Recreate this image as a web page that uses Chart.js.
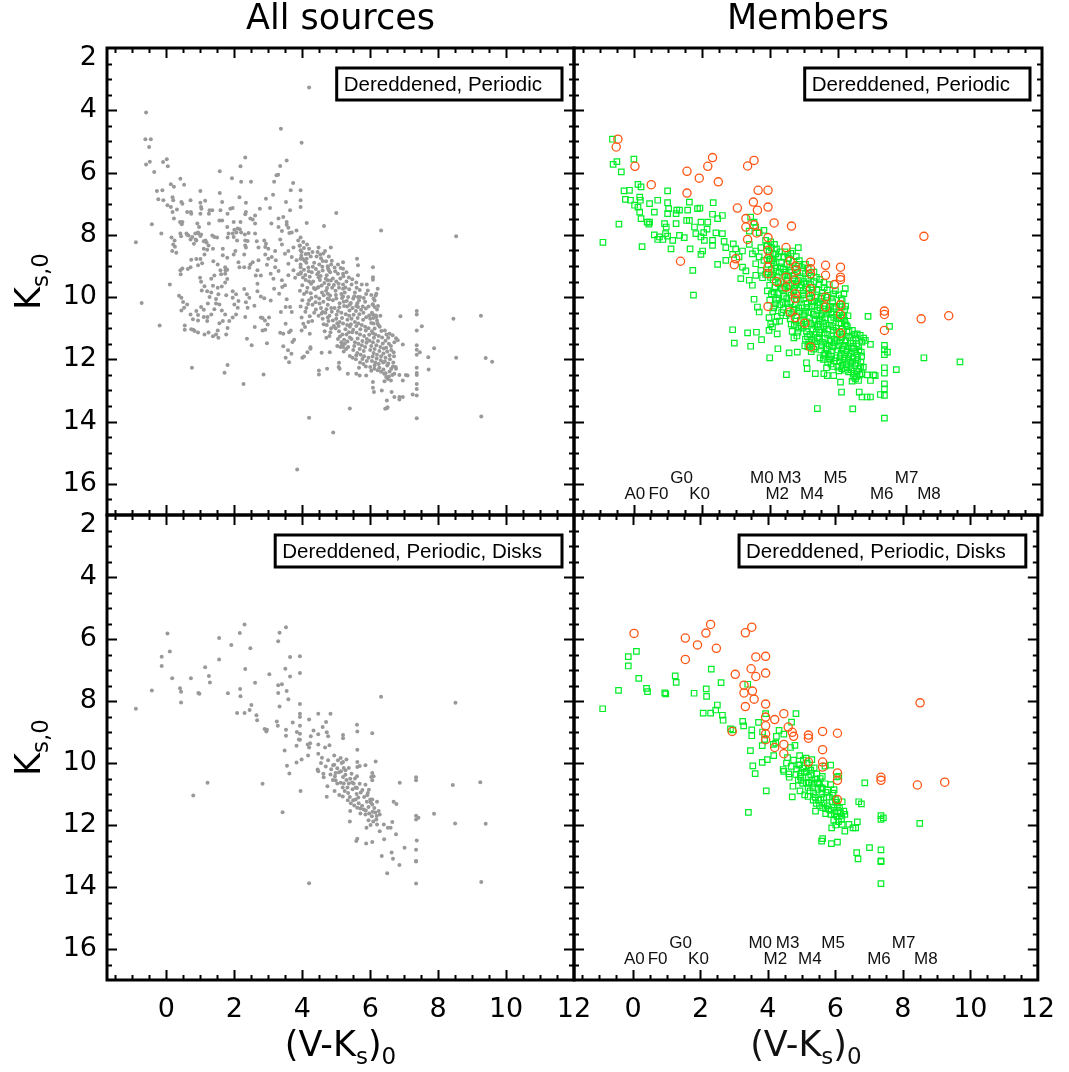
<!DOCTYPE html>
<html>
<head>
<meta charset="utf-8">
<script src="https://cdn.jsdelivr.net/npm/chart.js@4.4.1/dist/chart.umd.min.js"></script>
<style>
  html, body { margin: 0; padding: 0; background: #fff; }
  #wrap { position: relative; width: 1069px; height: 1072px; }
  #wrap canvas { position: absolute; left: 0; top: 0; }
</style>
</head>
<body>
<div id="wrap">
  <canvas id="allPeriodic" width="1069" height="1072"></canvas>
  <canvas id="memPeriodic" width="1069" height="1072"></canvas>
  <canvas id="allDisks" width="1069" height="1072"></canvas>
  <canvas id="memDisks" width="1069" height="1072"></canvas>
</div>
<script>
// axis ranges and tick labels
var X_MIN = -1.75, X_MAX = 12, Y_MIN = 2, Y_MAX = 17;
var xTicks = [0, 2, 4, 6, 8, 10, 12];
var yTicks = [2, 4, 6, 8, 10, 12, 14, 16];

// spectral types and their (V-Ks)0 colours, two rows of labels
var sptUpper = ["G0", "M0", "M3", "M5", "M7"];
var sptUpperVK = [1.41, 3.77, 4.58, 5.93, 8.02];
var sptLower = ["A0", "F0", "K0", "M2", "M4", "M6", "M8"];
var sptLowerVK = [0.04, 0.73, 1.94, 4.22, 5.24, 7.29, 8.68];

// periodic members: [ (V-Ks)0, Ks,0 ]
var memberCircles = [
  [-0.46,4.93],[-0.51,5.18],[0.04,5.8],[0.52,6.39],[1.57,5.96],[1.57,6.66],[1.93,6.18],[2.18,5.8],[2.32,5.52],[2.49,6.3],
  [3.35,5.79],[3.54,5.61],[3.66,6.57],[3.95,6.57],[3.95,7.11],[3.52,6.95],[3.64,7.21],[3.05,7.14],[3.3,7.48],[3.3,7.75],
  [3.54,7.68],[3.62,7.94],[3.35,8.15],[3.95,8.09],[4.13,7.62],[4.64,7.72],[8.53,8.05],[1.38,8.85],[2.96,8.96],[3.0,8.77],
  [3.95,8.5],[3.95,8.77],[3.95,9.04],[3.95,9.25],[4.2,9.5],[4.48,8.41],[4.6,8.84],[4.75,9.01],[4.78,9.14],[4.48,9.36],
  [4.48,9.68],[5.2,8.88],[5.2,9.09],[5.2,9.25],[5.64,8.98],[6.08,9.04],[6.08,9.36],[6.08,9.44],[5.64,9.3],[5.9,9.6],
  [5.64,10.0],[5.64,10.32],[5.2,9.73],[5.2,9.98],[4.75,10.05],[4.6,10.48],[4.75,10.66],[5.03,10.84],[5.2,11.6],[3.95,10.3],
  [6.08,10.25],[6.08,10.56],[6.08,11.16],[7.37,10.45],[7.37,10.56],[7.37,11.07],[8.45,10.7],[9.26,10.6],[4.75,9.46],[4.75,9.89]
];
var memberSquares = [
  [-0.62,4.93],[-0.6,5.74],[-0.49,5.65],[-0.36,5.98],[0.01,5.57],[0.13,6.38],[0.22,6.46],[-0.28,6.59],[-0.24,6.86],[-0.12,6.57],
  [-0.09,6.89],[0.03,7.05],[0.18,6.79],[0.2,6.89],[0.13,7.11],[0.18,7.27],[0.22,7.48],[0.4,7.59],[0.45,7.66],[0.47,7.0],
  [0.61,7.27],[0.71,6.89],[1.0,6.59],[1.0,6.97],[1.03,7.16],[1.0,7.32],[1.27,7.21],[1.35,7.21],[1.59,7.21],[1.64,6.95],
  [1.88,7.16],[1.95,7.14],[2.34,6.97],[2.32,7.34],[2.61,7.38],[2.47,7.48],[2.18,7.59],[1.98,7.59],[1.64,7.54],[1.25,7.64],
  [0.91,7.64],[0.96,7.75],[0.94,7.96],[1.0,8.04],[0.86,8.15],[0.71,8.15],[0.61,8.0],[0.76,8.07],[1.15,8.18],[1.1,8.45],
  [1.35,8.02],[1.49,8.09],[1.66,8.45],[1.79,7.75],[1.83,7.96],[1.98,8.07],[2.06,7.93],[2.08,8.18],[2.16,7.82],[2.42,7.94],
  [2.61,7.96],[2.32,8.18],[2.32,8.34],[2.03,8.52],[1.98,8.63],[2.66,8.21],[2.71,8.41],[2.93,8.29],[3.0,8.45],[2.47,8.95],
  [2.71,8.82],[2.91,8.63],[3.1,8.71],[3.2,8.52],[3.4,8.31],[3.49,8.61],[3.2,9.04],[3.3,9.16],[3.15,9.41],[3.4,9.46],
  [3.49,9.62],[-0.43,7.66],[0.25,8.38],[-0.9,8.24],[1.74,9.14],[1.76,9.94],[0.47,7.59],[1.25,7.32],[1.56,7.54],
  [3.44,7.43],[3.54,7.59],[3.59,7.77],[3.4,7.88],[3.69,7.93],[3.83,7.86],[3.88,8.18],[3.93,8.34],[3.74,8.41],[3.59,8.52],
  [3.69,8.71],[3.83,8.82],[3.59,8.93],[3.74,9.14],[3.88,9.27],[3.59,9.3],[3.79,9.38],[3.54,10.07],[3.64,10.32],[3.69,10.48],
  [3.98,10.66],[4.03,10.86],[4.18,10.8],[4.08,10.96],[4.22,11.18],[3.98,11.07],[2.91,11.05],[3.35,11.15],[3.61,11.13],[3.76,11.37],
  [2.96,11.48],[3.44,11.58],[4.0,11.95],[4.24,11.66],[4.57,11.79],[4.81,11.77],[4.49,12.49],[5.08,12.11],[5.34,12.46],[5.4,13.58],
  [6.44,13.59],[7.37,13.89],[4.84,8.41],[4.18,8.61],[4.13,8.77],[6.22,9.73],[6.18,9.89],[6.13,10.11],[6.13,10.32],[6.18,10.64],
  [6.22,10.86],[6.57,11.18],[6.66,11.23],[6.76,11.32],[6.81,11.39],[6.71,11.45],[6.96,11.52],[6.89,10.62],[7.52,10.94],[7.37,11.55],
  [7.37,11.69],[7.46,11.77],[7.37,11.85],[7.72,12.33],[8.53,11.95],[9.59,12.08],[7.05,12.5],[6.96,12.68],[7.1,12.52],[6.71,12.46],
  [6.86,12.5],[7.37,12.44],[7.37,12.27],[7.37,12.79],[7.37,12.95],[7.25,13.13],[7.37,13.16],[6.71,13.21],[6.86,13.21],[6.96,13.21],
  [6.63,13.05],[6.61,12.68],[6.52,12.63],[6.11,13.05],[6.08,12.73],[5.88,12.52],[5.69,12.52],[5.59,12.46],[5.1,12.3],
  // main sequence core
  [3.92,8.35],[3.98,8.55],[4.05,8.42],[4.1,8.62],[4.02,8.78],[3.95,8.95],[4.12,8.9],[4.2,8.45],[4.25,8.7],[4.3,8.55],
  [4.18,9.05],[4.05,9.12],[3.96,9.2],[4.28,9.2],[4.35,8.9],[4.4,9.1],[4.22,9.35],[4.1,9.45],[4.32,9.5],[4.0,9.62],
  [4.15,9.7],[4.38,9.75],[4.25,9.88],[4.05,9.9],[4.4,9.98],[4.2,10.1],[4.3,10.25],[4.12,10.35],[4.35,10.5],[4.22,10.62],
  [4.4,10.4],[3.93,9.8],[4.42,8.7],[4.0,10.1],
  [4.45,8.55],[4.55,8.75],[4.5,8.95],[4.62,8.6],[4.7,8.85],[4.78,8.7],[4.85,8.95],[4.48,9.2],[4.6,9.15],[4.72,9.3],
  [4.82,9.2],[4.9,9.4],[4.52,9.45],[4.65,9.55],[4.78,9.6],[4.88,9.7],[4.45,9.7],[4.58,9.85],[4.7,9.8],[4.82,9.95],
  [4.9,10.1],[4.5,10.05],[4.62,10.15],[4.75,10.25],[4.85,10.35],[4.55,10.35],[4.68,10.5],[4.8,10.6],[4.9,10.75],[4.6,10.7],
  [4.72,10.9],[4.85,11.0],[4.48,10.6],[4.66,11.1],[4.8,11.25],
  [4.95,9.05],[5.05,9.25],[5.0,9.5],[5.12,9.4],[5.2,9.6],[5.3,9.5],[5.38,9.75],[4.98,9.8],[5.08,9.7],[5.15,9.9],
  [5.25,9.85],[5.35,10.0],[5.0,10.05],[5.1,10.2],[5.22,10.15],[5.32,10.3],[5.4,10.25],[4.95,10.35],[5.05,10.45],[5.15,10.5],
  [5.28,10.55],[5.38,10.6],[5.0,10.7],[5.1,10.8],[5.2,10.85],[5.32,10.9],[5.4,10.95],[4.98,11.0],[5.08,11.1],[5.18,11.2],
  [5.3,11.2],[5.4,11.3],[5.05,11.35],[5.15,11.45],[5.25,11.5],[5.35,11.6],[5.22,11.75],[5.12,11.6],[5.3,9.2],[5.05,8.95],
  [5.45,9.6],[5.55,9.85],[5.5,10.05],[5.62,10.2],[5.7,10.0],[5.78,10.3],[5.85,10.15],[5.48,10.35],[5.58,10.45],[5.68,10.55],
  [5.8,10.5],[5.88,10.65],[5.45,10.7],[5.55,10.8],[5.65,10.85],[5.75,10.9],[5.85,10.95],[5.5,11.05],[5.6,11.15],[5.7,11.2],
  [5.82,11.25],[5.9,11.35],[5.45,11.35],[5.55,11.45],[5.65,11.5],[5.75,11.55],[5.85,11.6],[5.5,11.7],[5.62,11.8],[5.72,11.85],
  [5.82,11.9],[5.58,12.0],[5.7,12.1],[5.8,12.15],[5.9,12.05],[5.48,11.95],[5.88,9.9],[5.6,9.7],[5.75,9.6],
  [5.95,10.3],[6.05,10.5],[6.0,10.7],[6.1,10.85],[6.2,10.75],[6.28,10.95],[5.95,11.0],[6.05,11.1],[6.15,11.2],[6.25,11.25],
  [6.35,11.3],[5.98,11.4],[6.08,11.45],[6.18,11.55],[6.3,11.6],[6.4,11.65],[6.0,11.7],[6.1,11.8],[6.2,11.85],[6.32,11.9],
  [5.95,11.95],[6.05,12.05],[6.15,12.1],[6.25,12.15],[6.38,12.1],[6.0,12.25],[6.12,12.3],[6.22,12.35],[6.32,12.4],[6.1,10.05],
  [6.2,10.4],[6.3,10.6],
  [6.45,11.4],[6.55,11.5],[6.5,11.75],[6.62,11.7],[6.7,11.9],[6.45,11.95],[6.58,12.0],[6.68,12.1],[6.5,12.2],[6.62,12.3],
  [6.75,12.25],[6.45,12.45],[6.55,12.55],[6.65,12.5],[6.42,12.7],[6.48,11.2],
  [4.03,8.23],[4.14,8.31],[3.97,8.67],[4.07,8.83],[4.19,9.17],[4.31,9.03],[4.09,9.29],[4.26,9.57],[4.13,9.84],[4.34,9.71],
  [4.02,9.37],[4.44,9.27],[4.27,10.03],[4.17,10.22],[4.39,10.17],[4.09,10.47],[4.29,10.77],
  [4.53,8.63],[4.67,8.52],[4.59,9.03],[4.76,9.08],[4.87,8.83],[4.54,9.32],[4.69,9.41],[4.84,9.47],[4.57,9.63],[4.73,9.71],
  [4.93,9.61],[4.63,9.94],[4.79,10.07],[4.51,10.21],[4.71,10.39],[4.87,10.47],[4.57,10.53],[4.77,10.77],[4.93,10.93],[4.63,10.87],
  [4.83,11.13],[4.71,11.31],
  [4.97,9.17],[5.13,9.07],[5.21,9.33],[5.07,9.57],[5.27,9.69],[5.37,9.37],[4.99,9.93],[5.17,10.03],[5.31,10.13],[5.09,10.33],
  [5.23,10.29],[5.39,10.43],[5.01,10.57],[5.17,10.67],[5.33,10.73],[5.07,10.93],[5.27,11.03],[5.37,11.13],[5.11,11.27],[5.23,11.37],
  [5.33,11.43],[5.17,11.53],[5.29,11.67],[5.03,11.57],
  [5.47,9.43],[5.59,9.53],[5.69,9.77],[5.53,9.97],[5.67,10.11],[5.81,10.03],[5.43,10.19],[5.59,10.29],[5.73,10.41],[5.87,10.37],
  [5.51,10.57],[5.63,10.67],[5.79,10.73],[5.43,10.87],[5.59,10.93],[5.71,11.03],[5.87,11.07],[5.47,11.13],[5.63,11.33],[5.77,11.41],
  [5.89,11.47],[5.53,11.57],[5.69,11.67],[5.81,11.73],[5.59,11.87],[5.77,11.99],[5.87,12.23],[5.67,12.27],
  [5.93,9.79],[6.03,9.93],[6.07,10.23],[6.17,10.59],[6.23,10.29],[5.97,10.59],[6.09,10.67],[6.25,10.91],[6.03,10.83],[6.13,11.01],
  [6.33,11.09],[5.97,11.21],[6.11,11.31],[6.23,11.41],[6.37,11.49],[6.03,11.57],[6.13,11.67],[6.27,11.73],[6.39,11.81],[6.07,11.91],
  [6.19,11.97],[6.31,12.03],[6.13,12.19],[6.27,12.27],[6.39,12.33],[6.03,12.37],
  [6.43,11.07],[6.53,11.31],[6.61,11.57],[6.47,11.63],[6.57,11.87],[6.69,11.77],[6.43,12.07],[6.53,12.13],[6.67,12.23],[6.57,12.39],
  [6.47,12.57]
];

// periodic members with disks
var diskCircles = [
  [0.03,5.82],[1.55,5.97],[1.55,6.66],[1.91,6.19],[2.16,5.81],[2.3,5.53],[2.47,6.3],[3.33,5.8],[3.52,5.62],[3.64,6.58],
  [3.93,6.56],[3.93,7.1],[3.5,6.96],[3.64,7.21],[3.03,7.14],[3.29,7.49],[3.29,7.74],[3.54,7.68],[3.59,7.94],[3.33,8.18],
  [3.93,8.1],[3.93,8.52],[3.93,8.8],[3.93,9.06],[3.93,9.25],[4.2,8.6],[4.47,8.41],[4.6,8.84],[4.72,9.01],[4.76,9.14],
  [4.47,9.4],[4.2,9.5],[4.47,9.7],[5.2,9.1],[5.2,9.2],[5.62,8.98],[6.06,9.04],[5.62,9.57],[5.62,9.97],[5.2,9.97],
  [5.62,10.13],[6.06,10.32],[6.06,10.56],[6.06,11.18],[2.94,8.98],[7.35,10.46],[7.35,10.56],[8.43,10.71],[9.24,10.62],[8.51,8.06]
];
var diskSquares = [
  [-0.9,8.25],[-0.43,7.66],[-0.14,6.57],[0.1,6.4],[-0.14,6.87],[0.17,7.27],[0.4,7.59],[0.43,7.7],[0.94,7.74],[0.97,7.77],
  [1.25,7.19],[1.28,7.4],[1.81,7.75],[2.17,7.61],[2.18,7.85],[2.32,6.97],[2.61,7.41],[3.4,7.46],[2.08,8.39],[2.3,8.39],
  [2.45,8.29],[2.5,8.13],[2.67,8.62],[2.65,8.46],[2.89,8.9],[2.96,8.93],[3.25,8.66],[3.28,8.8],[3.52,8.93],[3.52,9.12],
  [3.48,9.6],[3.72,8.69],[3.93,8.41],[3.84,9.0],[3.9,9.24],[3.83,9.44],[3.55,10.09],[3.62,10.34],[3.83,9.98],[3.98,9.89],
  [3.95,10.9],[4.17,9.76],[4.23,9.36],[4.25,9.14],[4.33,8.95],[4.47,9.07],[4.7,8.68],[4.83,8.41],[4.67,9.5],[4.8,9.43],
  [4.76,9.91],[4.45,10.21],[4.47,10.27],[4.63,10.46],[4.74,10.75],[4.72,11.09],[4.94,10.06],[4.98,10.32],[4.96,10.43],[5.05,9.91],
  [5.13,9.84],[5.16,10.0],[5.3,9.89],[5.37,10.16],[5.22,10.16],[5.27,10.38],[4.98,10.56],[5.03,10.66],[5.13,10.64],[5.22,10.66],
  [5.37,10.66],[5.51,10.66],[5.61,10.43],[5.69,10.1],[5.86,10.07],[5.86,10.7],[5.57,10.79],[5.35,10.97],[5.19,11.08],[5.34,11.2],
  [5.43,11.3],[5.41,11.55],[5.57,11.18],[5.66,11.3],[5.62,11.44],[5.76,11.38],[5.81,11.5],[5.71,11.63],[5.86,11.66],[5.91,11.04],
  [5.96,10.86],[6.0,11.18],[6.06,11.34],[6.1,10.43],[6.25,11.55],[6.28,11.66],[6.18,11.82],[6.2,11.98],[6.28,12.2],[5.89,12.09],
  [6.01,12.0],[6.4,11.98],[6.52,12.09],[6.6,12.09],[6.65,11.9],[6.69,11.25],[6.77,11.32],[6.87,10.64],[7.35,11.7],[7.35,11.82],
  [7.42,11.77],[8.5,11.95],[5.59,12.52],[5.62,12.44],[5.88,12.6],[6.06,12.55],[6.63,12.89],[6.67,13.09],[7.01,12.73],[7.35,12.8],
  [7.35,13.16],[7.35,13.18],[7.35,13.89],[3.42,11.59],[4.94,9.76],[6.03,10.45],[4.16,9.4],
  [4.55,10.0],[4.62,10.35],[4.85,10.2],[4.9,10.55],[5.08,10.3],[5.2,10.45],[5.3,10.55],[5.45,10.35],[5.55,10.5],[5.48,10.85],
  [5.6,11.0],[5.72,10.95],[5.82,11.1],[5.5,11.2],[5.9,11.25],[5.95,11.42],[6.12,11.45],[6.15,11.6],[6.05,11.72],[5.95,11.85],
  [6.2,11.25],[5.25,10.9],[5.4,11.1],[4.95,10.9],
  [4.58,9.83],[4.69,10.11],[4.83,10.37],[4.91,10.07],[5.03,10.17],[5.14,10.27],[5.27,10.23],[5.41,10.51],[5.33,10.79],[5.47,10.63],
  [5.61,10.81],[5.69,10.67],[5.77,10.87],[5.53,11.37],[5.71,11.47],[5.87,11.53],[6.07,11.57],[6.19,11.71],[5.97,11.63],[6.09,11.89],
  [5.65,11.11],[5.93,10.97],[6.01,11.27],[5.19,10.79],[5.09,11.03]
];

// non-member periodic sources with disks
var diskField = [
  [0.79,11.05],[1.21,10.64],[2.83,10.67],[4.2,13.88],[6.32,7.86],[9.4,11.96],[9.27,13.84],[7.88,11.64],[7.37,12.5],[6.86,13.29],
  [6.5,13.56],[6.34,13.0],[6.41,12.46],[6.76,12.3],[5.4,11.89],[6.16,9.95],[5.61,8.77],[0.72,7.27],[0.43,8.05],[1.14,6.91],
  [3.29,6.07]
];

// other non-member periodic sources
var field = [
  [0.41,7.96],[0.59,7.96],[0.65,8.02],[0.85,7.96],[0.93,7.93],[1.02,7.99],[0.88,8.18],[0.81,8.29],[1.1,8.21],[1.18,8.25],
  [1.24,8.34],[1.41,8.07],[1.37,8.45],[1.2,8.48],[1.12,8.63],[1.0,8.78],[1.05,8.91],[0.88,8.78],[0.93,8.98],[0.73,8.8],
  [0.71,9.04],[0.63,9.1],[0.47,9.08],[0.41,9.14],[0.42,9.27],[0.17,8.52],[0.29,8.58],[0.2,8.31],[0.24,8.18],[0.15,8.09],
  [0.99,9.38],[1.02,9.51],[1.12,9.65],[1.04,9.79],[1.2,9.81],[1.27,10.0],[1.22,10.21],[1.02,10.32],[0.88,10.45],[0.93,10.58],
  [1.1,10.41],[1.1,10.64],[1.2,10.77],[1.32,10.56],[1.41,10.39],[1.46,10.21],[1.53,9.91],[1.51,9.7],[1.63,9.66],[1.73,9.53],
  [1.61,9.27],[1.73,9.25],[1.79,9.12],[1.79,9.42],[1.73,9.04],[1.79,8.74],[1.66,8.66],[1.51,8.95],[1.59,9.14],[1.41,9.31],
  [1.32,9.41],[1.37,9.64],[1.32,9.85],[1.46,10.06],[1.56,10.24],[1.63,10.43],[1.73,10.56],[1.66,10.77],[1.56,10.84],[1.51,11.07],
  [1.46,11.2],[1.37,11.26],[1.24,11.14],[1.12,11.2],[0.93,11.14],[0.83,11.09],[0.73,11.03],[0.54,11.05],[0.54,10.91],[0.44,10.02],
  [0.49,10.16],[0.52,10.34],[0.44,10.43],[0.61,10.24],[0.71,10.56],[0.78,10.71],[0.93,10.75],[0.37,9.96],[0.1,9.6],[-0.2,10.91],
  [-0.73,10.19],[-0.15,7.96],[1.95,9.81],[1.95,10.02],[2.05,9.91],[2.12,10.13],[2.0,10.24],[2.1,10.34],[2.05,10.56],[1.95,10.66],
  [1.85,10.77],[1.8,10.99],[1.76,11.2],[1.53,11.31],[2.29,9.74],[2.37,9.91],[2.44,10.02],[2.34,10.17],[2.39,10.34],[2.59,10.28],
  [2.32,10.64],[2.37,11.34],[2.51,11.55],[2.6,10.96],[2.83,11.07],[2.78,10.66],[2.9,10.75],[2.98,10.88],[3.02,10.66],[3.07,10.11],
  [2.88,10.04],[2.78,9.98],[2.68,9.81],[1.8,8.09],[1.95,7.96],[2.0,7.84],[2.1,7.8],[2.2,7.93],[2.31,7.99],[2.39,8.2],
  [2.34,8.41],[2.29,8.63],[2.12,8.88],[2.15,9.04],[2.29,9.04],[2.44,9.06],[2.54,8.88],[2.68,9.14],[2.63,9.31],[2.78,9.31],
  [2.68,9.57],[2.88,8.18],[2.91,8.39],[3.22,8.82],[3.07,9.25],[3.17,9.73],[3.32,9.89],[3.41,9.68],[3.51,10.32],[3.37,10.48],
  [3.51,10.86],[3.66,11.07],[3.44,11.18],[3.71,11.44],[3.58,11.71],[3.68,11.82],[3.51,11.95],[3.61,12.09],[4.05,11.91],[4.15,11.77],
  [4.24,11.61],[0.41,6.2],[2.2,6.3],[3.17,6.3],[3.24,6.09],[3.73,6.34],[3.14,6.71],[2.93,6.84],[3.95,6.89],[2.54,7.51],
  [3.09,7.64],[5.0,7.3],[-0.6,4.07],[4.2,3.27],[3.37,4.59],[3.98,5.04],[-0.1,5.66],[1.02,7.11],[2.15,6.79],[2.34,7.27],
  [2.61,7.64],[2.75,7.16],[1.8,7.32],[0.73,7.32],[0.31,7.19],[0.44,6.95],[0.75,12.27],[1.8,12.18],[1.71,12.43],[2.27,12.79],
  [2.86,12.49],[4.91,14.35],[3.85,15.54],[6.51,13.54],[7.71,11.93],[4.73,12.3],[4.49,12.36],[5.07,12.25],[6.08,12.91],[6.49,13.32]
];

function toPoints(list) {
  return list.map(function (p) { return { x: p[0], y: p[1] }; });
}

var FONT = '"Liberation Sans", Arial, Helvetica, sans-serif';
var AXFONT = '"DejaVu Sans", Verdana, sans-serif';
var W = 1069, H = 1072;
var XAXIS_H = 50;

// draws the box, inward ticks, axis titles, boxed note and spectral types
function decor(panel) {
  return {
    id: 'decor',
    afterDraw: function (chart) {
      var ctx = chart.ctx, a = chart.chartArea;
      var xs = chart.scales.x, ys = chart.scales.y;
      var v, p, len;
      ctx.save();
      ctx.strokeStyle = '#000';
      ctx.lineWidth = 2;
      ctx.beginPath();
      for (v = -1.5; v < X_MAX; v += 0.5) {
        p = Math.round(xs.getPixelForValue(v)) + 0.5;
        len = (v % 2 === 0) ? 10 : 5;
        ctx.moveTo(p, a.bottom); ctx.lineTo(p, a.bottom - len);
        ctx.moveTo(p, a.top); ctx.lineTo(p, a.top + len);
      }
      for (v = 2.5; v < Y_MAX; v += 0.5) {
        p = Math.round(ys.getPixelForValue(v)) + 0.5;
        len = (v % 2 === 0) ? 10 : 5;
        ctx.moveTo(a.left, p); ctx.lineTo(a.left + len, p);
        ctx.moveTo(a.right, p); ctx.lineTo(a.right - len, p);
      }
      ctx.stroke();
      ctx.lineWidth = 3;
      ctx.strokeRect(a.left, a.top, a.right - a.left, a.bottom - a.top);

      // boxed note, top right
      ctx.font = '20.5px ' + FONT;
      var tw = ctx.measureText(panel.note).width;
      var bw = tw + 27, bh = 32;
      var bx = a.right - 12 - bw, by = a.top + 20;
      ctx.fillStyle = '#fff';
      ctx.fillRect(bx, by, bw, bh);
      ctx.strokeRect(bx, by, bw, bh);
      ctx.fillStyle = '#000';
      ctx.textBaseline = 'middle';
      ctx.textAlign = 'left';
      ctx.fillText(panel.note, bx + 7, by + bh / 2 + 1);

      // spectral types along the bottom of the member panels
      if (panel.spt) {
        ctx.font = '17px ' + FONT;
        ctx.fillStyle = '#111';
        ctx.textAlign = 'center';
        sptUpper.forEach(function (s, i) {
          ctx.fillText(s, xs.getPixelForValue(sptUpperVK[i]), ys.getPixelForValue(15.83));
        });
        sptLower.forEach(function (s, i) {
          ctx.fillText(s, xs.getPixelForValue(sptLowerVK[i]), ys.getPixelForValue(16.32));
        });
      }

      // K_s,0 on the left panels
      if (panel.yTitle) {
        ctx.save();
        ctx.translate(27, (a.top + a.bottom) / 2);
        ctx.rotate(-Math.PI / 2);
        ctx.textAlign = 'left';
        ctx.textBaseline = 'alphabetic';
        ctx.font = '35px ' + AXFONT;
        var wK = ctx.measureText('K').width;
        ctx.font = '23px ' + AXFONT;
        var wS = ctx.measureText('s,0').width;
        var x0 = -(wK + wS) / 2;
        ctx.font = '35px ' + AXFONT;
        ctx.fillText('K', x0, 13);
        ctx.font = '23px ' + AXFONT;
        ctx.fillText('s,0', x0 + wK, 21);
        ctx.restore();
      }

      // (V-K_s)_0 under the bottom panels
      if (panel.xTitle) {
        var parts = [['(V-K', 35, 0], ['s', 23, 8], [')', 35, 0], ['0', 23, 8]];
        var total = 0;
        parts.forEach(function (q) { ctx.font = q[1] + 'px ' + AXFONT; q.push(ctx.measureText(q[0]).width); total += q[3]; });
        var cx = (a.left + a.right) / 2 - total / 2;
        ctx.textAlign = 'left';
        ctx.textBaseline = 'alphabetic';
        parts.forEach(function (q) {
          ctx.font = q[1] + 'px ' + AXFONT;
          ctx.fillText(q[0], cx, 1056 + q[2]);
          cx += q[3];
        });
      }
      ctx.restore();
    }
  };
}

function makePanel(id, panel, datasets) {
  var a = panel.area;
  var xh = panel.xLabels ? XAXIS_H : 0;
  new Chart(document.getElementById(id), {
    type: 'scatter',
    data: { datasets: datasets },
    options: {
      responsive: false,
      animation: false,
      events: [],
      layout: {
        padding: {
          left: panel.yLabels ? 0 : a.l,
          right: W - a.r,
          top: panel.title ? 0 : a.t,
          bottom: H - a.b - xh
        }
      },
      plugins: {
        legend: { display: false },
        tooltip: { enabled: false },
        title: {
          display: !!panel.title,
          text: panel.title || '',
          fullSize: false,
          color: '#000',
          font: { family: AXFONT, size: 35, weight: 'normal', lineHeight: '40px' },
          padding: { top: 0, bottom: 8 }
        }
      },
      scales: {
        x: {
          type: 'linear',
          min: X_MIN,
          max: X_MAX,
          grid: { display: false, drawTicks: false },
          border: { display: false },
          ticks: { display: panel.xLabels, padding: 14, color: '#000', font: { family: AXFONT, size: 27 } },
          afterBuildTicks: function (s) { s.ticks = xTicks.map(function (v) { return { value: v }; }); },
          afterFit: function (s) { s.height = xh; }
        },
        y: {
          type: 'linear',
          reverse: true,
          min: Y_MIN,
          max: Y_MAX,
          grid: { display: false, drawTicks: false },
          border: { display: false },
          ticks: {
            display: panel.yLabels,
            padding: 10,
            color: '#000',
            font: { family: AXFONT, size: 27, lineHeight: '19px' },
            // the top label sits just below the frame corner
            callback: function (v) { return v === Y_MIN ? ['', String(v)] : String(v); }
          },
          afterBuildTicks: function (s) { s.ticks = yTicks.map(function (v) { return { value: v }; }); },
          afterFit: function (s) { s.width = panel.yLabels ? a.l : 0; }
        }
      }
    },
    plugins: [decor(panel)]
  });
}

function grayDots(list) {
  return { data: toPoints(list), pointStyle: 'circle', pointRadius: 2, backgroundColor: '#999999', borderWidth: 0, order: 1 };
}
function greenSquares(list) {
  return { data: toPoints(list), pointStyle: 'rect', pointRadius: 3.9, backgroundColor: 'rgba(0,0,0,0)', borderColor: 'rgb(0,238,40)', borderWidth: 1.2, order: 2 };
}
function orangeCircles(list) {
  return { data: toPoints(list), pointStyle: 'circle', pointRadius: 4.1, backgroundColor: 'rgba(0,0,0,0)', borderColor: 'rgb(255,85,20)', borderWidth: 1.3, order: 1 };
}

var allPeriodic = memberSquares.concat(memberCircles, diskField, field);
var allDisks = diskSquares.concat(diskCircles, diskField);

makePanel('allPeriodic',
  { area: { l: 107, t: 48, r: 574, b: 515 }, title: 'All sources', yLabels: true, xLabels: false, yTitle: true, note: 'Dereddened, Periodic' },
  [grayDots(allPeriodic)]);
makePanel('memPeriodic',
  { area: { l: 574, t: 48, r: 1042, b: 515 }, title: 'Members', yLabels: false, xLabels: false, spt: true, note: 'Dereddened, Periodic' },
  [orangeCircles(memberCircles), greenSquares(memberSquares)]);
makePanel('allDisks',
  { area: { l: 107, t: 515, r: 574, b: 980 }, yLabels: true, xLabels: true, yTitle: true, xTitle: true, note: 'Dereddened, Periodic, Disks' },
  [grayDots(allDisks)]);
makePanel('memDisks',
  { area: { l: 574, t: 515, r: 1042, b: 980 }, yLabels: false, xLabels: true, spt: true, xTitle: true, note: 'Dereddened, Periodic, Disks' },
  [orangeCircles(diskCircles), greenSquares(diskSquares)]);
</script>
</body>
</html>
